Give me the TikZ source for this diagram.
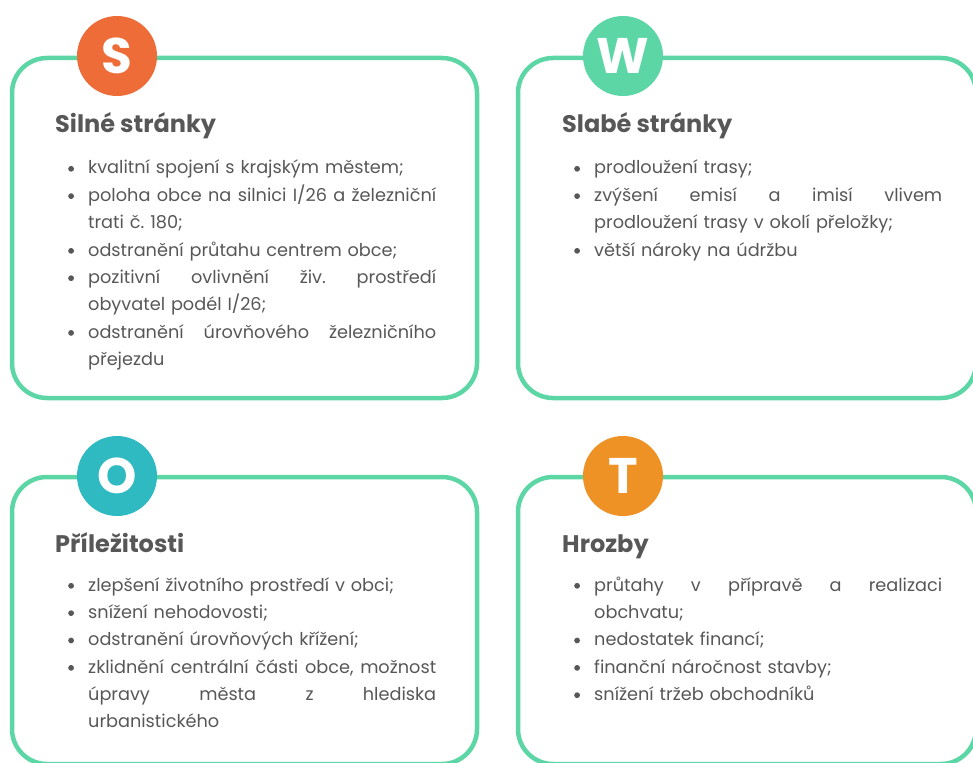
\documentclass[tikz,border=0pt]{standalone}
\usepackage{fontspec}
\setmainfont{Poppins}
\frenchspacing
\definecolor{frame}{HTML}{5DD6A6}
\definecolor{ink}{HTML}{575757}
\definecolor{sred}{HTML}{EE6C38}
\definecolor{wgreen}{HTML}{5DD6A6}
\definecolor{oteal}{HTML}{2FB9C1}
\definecolor{torange}{HTML}{EE9226}
% list helpers: bullet, justified line, continuation line
\newcommand\bul{\makebox[20pt][l]{\raisebox{2.3pt}{\tikz\fill[ink] (0,0) circle (2.9pt);}}}
\newcommand\jl[1]{\hbox to 348pt{\spaceskip=0.25em plus 1fil\relax #1}}
\newcommand\cont[1]{\hspace*{20pt}#1}
\begin{document}
\begin{tikzpicture}[x=1pt,y=-1pt,
  panel/.style={draw=frame, line width=4.5pt, rounded corners=35pt, inner sep=0pt},
  badge/.style={circle, fill=#1, minimum size=80pt, inner sep=0pt, text=white,
    font=\bfseries\fontsize{50}{50}\selectfont},
  heading/.style={anchor=base west, inner sep=0pt, text=ink,
    font=\bfseries\fontsize{24}{24}\selectfont},
  list/.style={anchor=base west, inner sep=0pt, text=ink, text width=368pt,
    align=left, font=\fontsize{17.7}{27.35}\selectfont}]
\useasboundingbox (0,0) rectangle (973,762);
\clip (0,0) rectangle (973,762);

% four panels
\node[panel, minimum width=465pt, minimum height=340pt] (sbox) at (244.5,228) {};
\node[panel, minimum width=458pt, minimum height=340pt] (wbox) at (747,228) {};
\node[panel, minimum width=465pt, minimum height=287pt] (obox) at (244.5,620.5) {};
\node[panel, minimum width=458pt, minimum height=287pt] (tbox) at (747,620.5) {};

% letter badges
\node[badge=sred] (sbadge) at (117,56) {S};
\node[badge=wgreen] (wbadge) at (623,56) {W};
\node[badge=oteal] (obadge) at (117,476) {O};
\node[badge=torange] (tbadge) at (623,476) {T};

% headings
\node[heading] (shead) at (55,133) {Silné stránky};
\node[heading] (whead) at (562,133) {Slabé stránky};
\node[heading] (ohead) at (55,552) {Příležitosti};
\node[heading] (thead) at (562,552) {Hrozby};

% lists
\node[list] (slist) at (68,174) {%
\bul kvalitní spojení s krajským městem;\\
\bul\jl{poloha obce na silnici I/26 a železniční}\\
\cont{trati č. 180;}\\
\bul odstranění průtahu centrem obce;\\
\bul\jl{pozitivní ovlivnění živ. prostředí}\\
\cont{obyvatel podél I/26;}\\
\bul\jl{odstranění úrovňového železničního}\\
\cont{přejezdu}};

\node[list] (wlist) at (574,174) {%
\bul prodloužení trasy;\\
\bul\jl{zvýšení emisí a imisí vlivem}\\
\cont{prodloužení trasy v okolí přeložky;}\\
\bul větší nároky na údržbu};

\node[list] (olist) at (68,591) {%
\bul zlepšení životního prostředí v obci;\\
\bul snížení nehodovosti;\\
\bul odstranění úrovňových křížení;\\
\bul\jl{zklidnění centrální části obce, možnost}\\
\cont{\jl{úpravy města z hlediska}}\\
\cont{urbanistického}};

\node[list] (tlist) at (574,591) {%
\bul\jl{průtahy v přípravě a realizaci}\\
\cont{obchvatu;}\\
\bul nedostatek financí;\\
\bul finanční náročnost stavby;\\
\bul snížení tržeb obchodníků};
\end{tikzpicture}
\end{document}
